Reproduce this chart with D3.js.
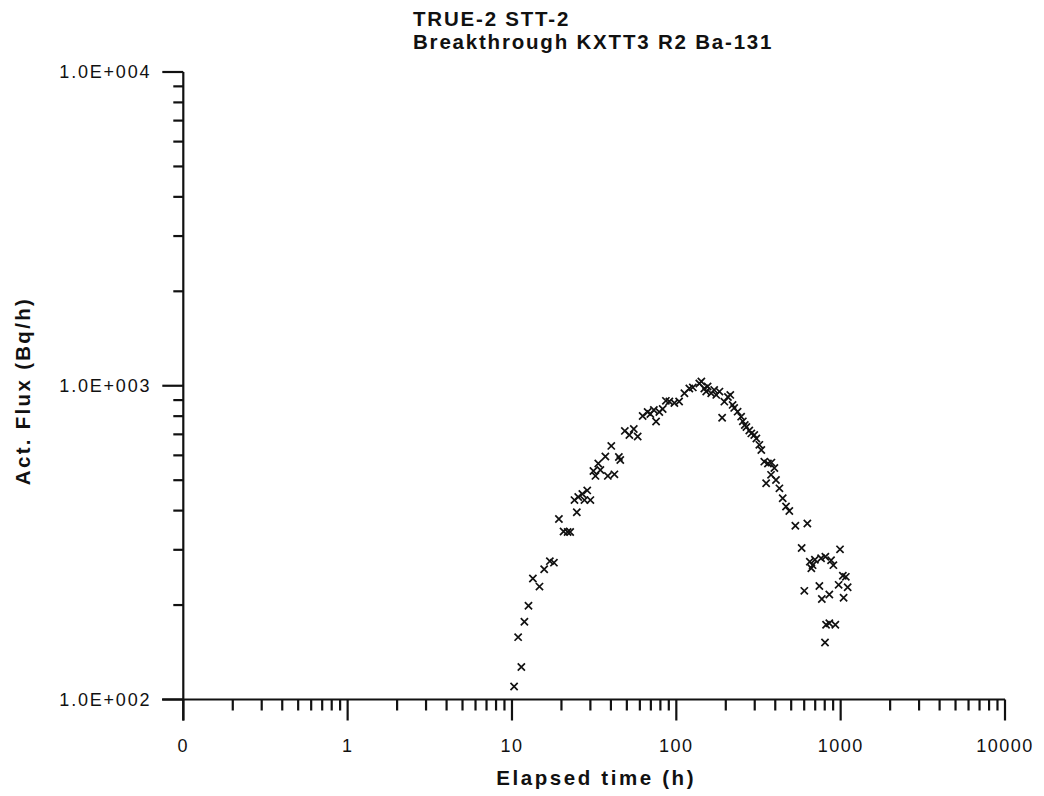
<!DOCTYPE html>
<html>
<head>
<meta charset="utf-8">
<script src="https://cdn.jsdelivr.net/npm/d3@7"></script>
<style>
  html, body { margin: 0; padding: 0; background: #fff; }
  svg { display: block; }
  text { font-family: "Liberation Sans", Arial, Helvetica, sans-serif; fill: #111; }
</style>
</head>
<body>
<svg id="chart" width="1044" height="796"></svg>
<script>
// Ba-131 breakthrough, elapsed time (h) vs activity flux (Bq/h)
const timeH = [
  10.3, 11.4, 10.9, 11.9, 12.6, 13.4, 14.7, 15.7, 17.0, 18.0,
  19.3, 20.6, 21.8, 22.6, 24.8, 24.0, 25.3, 26.8, 28.7, 27.6,
  30.0, 31.3, 32.2, 33.5, 34.5, 37.0, 38.3, 42.0, 40.2, 44.7,
  45.6, 48.6, 51.8, 55.1, 58.2, 62.4, 66.9, 69.5, 73.0, 75.3,
  78.8, 82.6, 86.4, 90.7, 97.3, 104, 112, 120, 126, 138,
  142, 148, 152, 155, 163, 170, 175, 183, 190, 196,
  206, 213, 220, 225, 236, 248, 254, 261, 267, 278,
  286, 298, 307, 320, 329, 343, 361, 379, 395, 352,
  377, 404, 424, 444, 465, 487, 530, 627, 579, 649,
  675, 697, 663, 760, 807, 874, 903, 991, 1031, 1075,
  1103, 972, 1042, 601, 742, 768, 853, 815, 853, 928,
  803
];
const fluxBqh = [
  110, 127, 158, 177, 199, 243, 229, 260, 276, 273,
  376, 343, 342, 342, 395, 432, 442, 452, 464, 432,
  432, 535, 516, 565, 539, 595, 516, 522, 643, 593,
  580, 718, 697, 728, 689, 801, 825, 813, 837, 769,
  825, 843, 895, 891, 881, 891, 946, 980, 988, 1017,
  1032, 980, 959, 995, 946, 970, 935, 958, 791, 890,
  921, 935, 869, 850, 827, 797, 770, 750, 739, 720,
  705, 697, 679, 648, 624, 573, 565, 569, 547, 489,
  520, 501, 471, 438, 412, 399, 358, 364, 304, 275,
  268, 279, 262, 282, 285, 278, 268, 301, 248, 246,
  228, 232, 211, 222, 230, 209, 216, 173, 175, 173,
  152
];

const xTickValues = [0.1, 1, 10, 100, 1000, 10000];
const xTickLabels = ["0", "1", "10", "100", "1000", "10000"];
const yTickValues = [100, 1000, 10000];
const yTickLabels = ["1.0E+002", "1.0E+003", "1.0E+004"];

const titleLines = ["TRUE-2 STT-2", "Breakthrough KXTT3 R2 Ba-131"];
const xTitle = "Elapsed time (h)";
const yTitle = "Act. Flux (Bq/h)";

const svg = d3.select("#chart");

const x = d3.scaleLog().domain([0.1, 10000]).range([183.3, 1005]);
const y = d3.scaleLog().domain([100, 10000]).range([699.5, 72]);

// minor ticks at 2..9 within each decade
function minorTicks(majors) {
  const out = [];
  for (let i = 0; i < majors.length - 1; i++) {
    for (let k = 2; k <= 9; k++) out.push(majors[i] * k);
  }
  return out;
}

// X axis
const gx = svg.append("g").attr("transform", `translate(0,${y(100)})`);
gx.call(d3.axisBottom(x).tickValues(minorTicks(xTickValues)).tickSize(11).tickFormat("").offset(0));
gx.call(g => g.select(".domain").remove());
const gxMaj = svg.append("g").attr("transform", `translate(0,${y(100)})`);
gxMaj.call(d3.axisBottom(x).tickValues(xTickValues).tickSize(21).tickSizeOuter(0).offset(0)
  .tickFormat((d, i) => xTickLabels[i]));
gxMaj.select(".domain").attr("d", `M162,0H${x(10000)}`);
gxMaj.selectAll("text")
  .attr("y", 52)
  .attr("dy", 0)
  .style("font-size", "18px")
  .style("letter-spacing", "1.5px")
  .style("font-family", "'Liberation Sans', Arial, sans-serif");

// Y axis
const gy = svg.append("g").attr("transform", `translate(${x(0.1)},0)`);
gy.call(d3.axisLeft(y).tickValues(minorTicks(yTickValues)).tickSize(10).tickFormat("").offset(0));
gy.call(g => g.select(".domain").remove());
const gyMaj = svg.append("g").attr("transform", `translate(${x(0.1)},0)`);
gyMaj.call(d3.axisLeft(y).tickValues(yTickValues).tickSize(21).tickSizeOuter(0).offset(0)
  .tickFormat((d, i) => yTickLabels[i]));
gyMaj.select(".domain").attr("d", `M0,${y(10000)}V${y(100) + 21}`);
gyMaj.selectAll("text")
  .attr("x", -32)
  .attr("dy", "0.36em")
  .style("font-size", "18px")
  .style("letter-spacing", "1.8px")
  .style("font-family", "'Liberation Sans', Arial, sans-serif");

svg.selectAll(".domain, .tick line")
  .style("stroke", "#111")
  .style("stroke-width", "2.2px");

// Data markers (x-shaped)
svg.append("g")
  .selectAll("path")
  .data(timeH.map((t, i) => [t, fluxBqh[i]]))
  .join("path")
  .attr("transform", d => `translate(${x(d[0])},${y(d[1])})`)
  .attr("d", "M-3.6,-3.6L3.6,3.6M-3.6,3.6L3.6,-3.6")
  .style("stroke", "#111")
  .style("stroke-width", "1.7px")
  .style("fill", "none");

// Titles
const title = svg.append("text")
  .attr("x", 413)
  .style("font-size", "20.5px")
  .style("font-weight", "bold")
  .style("letter-spacing", "1.8px");
title.selectAll("tspan")
  .data(titleLines)
  .join("tspan")
  .attr("x", 413)
  .attr("y", (d, i) => 26 + i * 22.5)
  .text(d => d);

svg.append("text")
  .attr("x", (x(0.1) + x(10000)) / 2 + 2)
  .attr("y", 785)
  .attr("text-anchor", "middle")
  .style("font-size", "20.5px")
  .style("font-weight", "bold")
  .style("letter-spacing", "2.6px")
  .text(xTitle);

svg.append("text")
  .attr("transform", "translate(30,391) rotate(-90)")
  .attr("text-anchor", "middle")
  .style("font-size", "20.5px")
  .style("font-weight", "bold")
  .style("letter-spacing", "2.3px")
  .text(yTitle);
</script>
</body>
</html>
